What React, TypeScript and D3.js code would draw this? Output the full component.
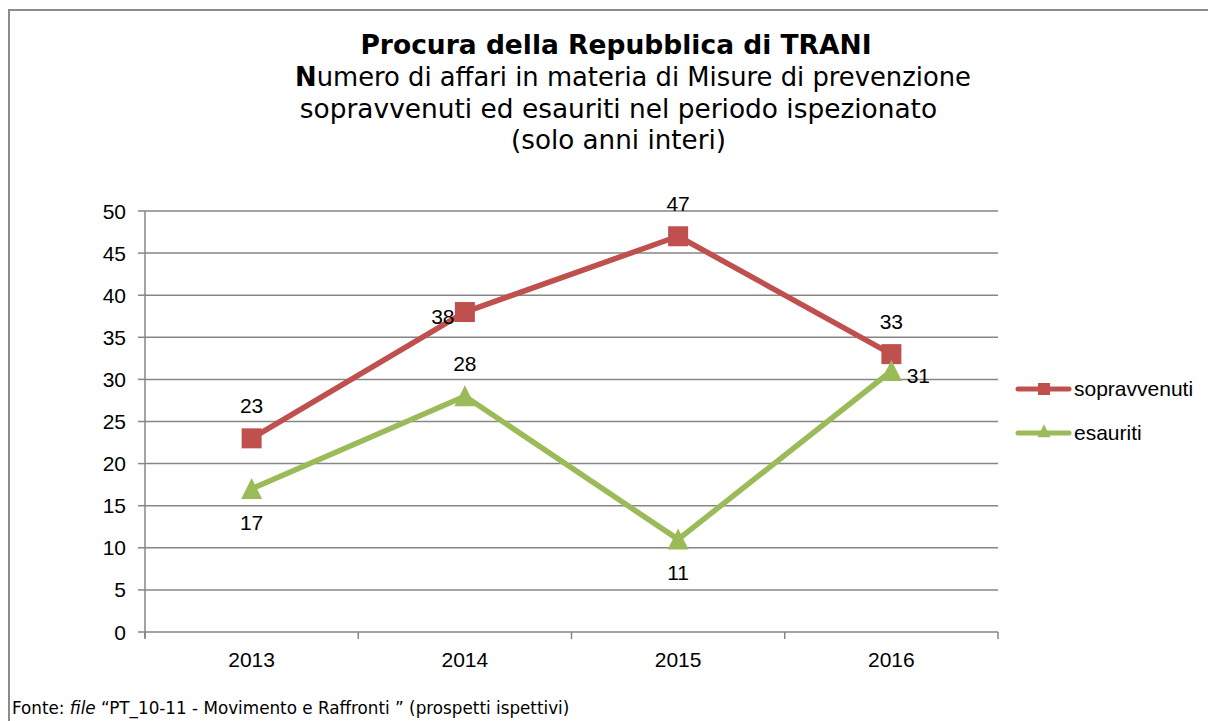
import React from "react";
import * as d3 from "d3";

const years = ["2013", "2014", "2015", "2016"];
const sopravvenuti = [23, 38, 47, 33];
const esauriti = [17, 28, 11, 31];
const yTicks = [0, 5, 10, 15, 20, 25, 30, 35, 40, 45, 50];
// label placement per point: "above" | "below" | "left" | "right"
const sopLabelPos = ["above", "left", "above", "above"];
const esaLabelPos = ["below", "above", "below", "right"];

const RED = "#C0504D";
const GREEN = "#9BBB59";
const GRID = "#868686";

export default function App() {
  const W = 1208, H = 721;
  const x0 = 145, x1 = 998, yTop = 211, yBot = 632;
  const band = d3.scaleBand<string>().domain(years).range([x0, x1]).padding(0);
  const xc = (c: string) => (band(c) as number) + band.bandwidth() / 2;
  const y = d3.scaleLinear().domain([0, 50]).range([yBot, yTop]);
  const lineGen = d3.line<number>().x((_, i) => xc(years[i])).y((d) => y(d));

  const labelFont = "'Liberation Sans', Arial, sans-serif";
  const titleFont = "'DejaVu Sans', Verdana, sans-serif";
  const FS = 21;

  const labelXY = (pos: string, cx: number, cy: number) => {
    if (pos === "above") return { x: cx, y: cy - 25, anchor: "middle" };
    if (pos === "below") return { x: cx, y: cy + 41, anchor: "middle" };
    if (pos === "left") return { x: cx - 22, y: cy + 12, anchor: "middle" };
    return { x: cx + 27, y: cy + 12, anchor: "middle" };
  };

  const tri = (cx: number, cy: number, s: number) =>
    `M${cx},${cy - s * 0.52} L${cx + s * 0.5},${cy + s * 0.48} L${cx - s * 0.5},${cy + s * 0.48} Z`;

  return (
    <svg width={W} height={H} style={{ position: "absolute", left: 0, top: 0, background: "#fff" }}>
      <rect x={0} y={0} width={W} height={H} fill="#fff" />
      {/* border */}
      <path d={`M9,${H + 5} V10 H${W + 5}`} fill="none" stroke="#8c8c8c" strokeWidth={2} />

      {/* title */}
      <g fontFamily={titleFont} fill="#000" textAnchor="middle">
        <text x={616} y={54} fontSize={26.5} fontWeight="bold">Procura della Repubblica di TRANI</text>
        <text x={633} y={86} fontSize={25.8}>
          <tspan fontWeight="bold">N</tspan>umero di affari in materia di Misure di prevenzione
        </text>
        <text x={618.5} y={118} fontSize={26.4}>sopravvenuti ed esauriti nel periodo ispezionato</text>
        <text x={618.5} y={149} fontSize={26.2}>(solo anni interi)</text>
      </g>

      {/* gridlines */}
      {yTicks.map((t) => (
        <line key={"g" + t} x1={x0} x2={x1} y1={y(t)} y2={y(t)} stroke={GRID} strokeWidth={1.5} />
      ))}
      {/* y axis */}
      <line x1={x0} x2={x0} y1={yTop} y2={yBot + 6} stroke={GRID} strokeWidth={1.5} />
      {yTicks.map((t) => (
        <g key={"t" + t}>
          <line x1={x0 - 7} x2={x0} y1={y(t)} y2={y(t)} stroke={GRID} strokeWidth={1.5} />
          <text x={126} y={y(t) + 7.5} fontSize={FS} textAnchor="end" fontFamily={labelFont} fill="#000">{t}</text>
        </g>
      ))}
      {/* x ticks */}
      {years.map((c) => (
        <line key={"xt" + c} x1={band(c) as number} x2={band(c) as number} y1={yBot} y2={yBot + 7} stroke={GRID} strokeWidth={1.5} />
      ))}
      <line x1={x1} x2={x1} y1={yBot} y2={yBot + 7} stroke={GRID} strokeWidth={1.5} />
      {years.map((c) => (
        <text key={"xl" + c} x={xc(c)} y={667} fontSize={FS} textAnchor="middle" fontFamily={labelFont} fill="#000">{c}</text>
      ))}

      {/* series lines */}
      <path d={lineGen(sopravvenuti) || ""} fill="none" stroke={RED} strokeWidth={5.5} strokeLinejoin="round" strokeLinecap="round" />
      <path d={lineGen(esauriti) || ""} fill="none" stroke={GREEN} strokeWidth={5.5} strokeLinejoin="round" strokeLinecap="round" />

      {/* markers */}
      {sopravvenuti.map((v, i) => (
        <rect key={"sm" + i} x={xc(years[i]) - 10} y={y(v) - 10} width={20} height={20} fill={RED} />
      ))}
      {esauriti.map((v, i) => (
        <path key={"em" + i} d={tri(xc(years[i]), y(v), 21)} fill={GREEN} />
      ))}

      {/* data labels */}
      <g fontFamily={labelFont} fontSize={FS} fill="#000">
        {sopravvenuti.map((v, i) => {
          const p = labelXY(sopLabelPos[i], xc(years[i]), y(v));
          return <text key={"sl" + i} x={p.x} y={p.y} textAnchor={p.anchor as any}>{v}</text>;
        })}
        {esauriti.map((v, i) => {
          const p = labelXY(esaLabelPos[i], xc(years[i]), y(v));
          return <text key={"el" + i} x={p.x} y={p.y} textAnchor={p.anchor as any}>{v}</text>;
        })}
      </g>

      {/* legend */}
      <g fontFamily={labelFont} fontSize={FS} fill="#000">
        <line x1={1018} x2={1069} y1={389} y2={389} stroke={RED} strokeWidth={5} strokeLinecap="round" />
        <rect x={1038} y={383} width={12} height={12} fill={RED} />
        <text x={1074} y={396}>sopravvenuti</text>
        <line x1={1018} x2={1069} y1={433} y2={433} stroke={GREEN} strokeWidth={5} strokeLinecap="round" />
        <path d={tri(1044, 431, 13)} fill={GREEN} />
        <text x={1074} y={440}>esauriti</text>
      </g>

      {/* footer */}
      <text x={12} y={714} fontSize={16.8} fontFamily={titleFont} fill="#000">
        Fonte: <tspan fontStyle="italic">file</tspan> “PT_10-11 - Movimento e Raffronti ” (prospetti ispettivi)
      </text>
    </svg>
  );
}
